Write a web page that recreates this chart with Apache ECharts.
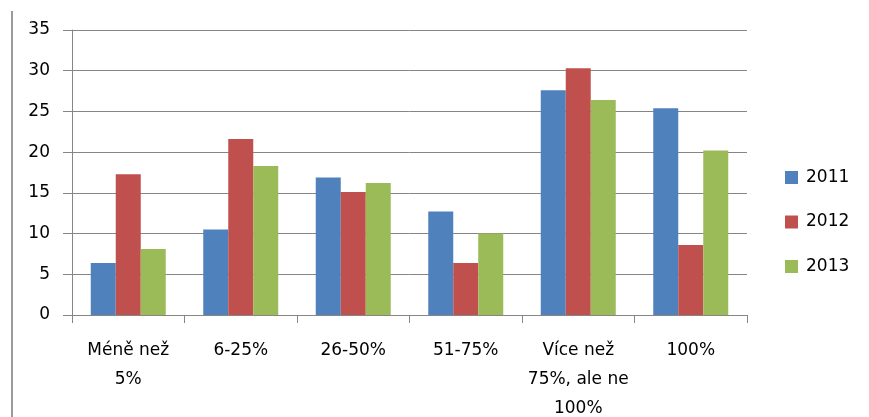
<!DOCTYPE html>
<html lang="cs">
<head>
    <meta charset="UTF-8">
    <title>Graf</title>
    <script src="https://cdn.jsdelivr.net/npm/echarts@6/dist/echarts.min.js"></script>
    <style>
        html, body { margin: 0; padding: 0; background: #fff; }
        #main { width: 869px; height: 417px; }
    </style>
</head>
<body>
    <div id="main"></div>
    <script type="text/javascript">
        // kategorie a hodnoty
        var categories = ['Méně než\n5%', '6-25%', '26-50%', '51-75%', 'Více než\n75%, ale ne\n100%', '100%'];
        var years = ['2011', '2012', '2013'];
        var data2011 = [6.4, 10.5, 16.9, 12.7, 27.6, 25.4];
        var data2012 = [17.3, 21.6, 15.1, 6.4, 30.3, 8.6];
        var data2013 = [8.1, 18.3, 16.2, 10.0, 26.4, 20.2];
        var yTicks = [0, 5, 10, 15, 20, 25, 30, 35];

        var colors = ['#4F81BD', '#C0504D', '#9BBB59'];
        var font = '"DejaVu Sans", sans-serif';
        var gray = '#868686';

        function makeSeries(name, values, color) {
            return {
                name: name,
                type: 'bar',
                data: values,
                barWidth: 25,
                barGap: '0%',
                animation: false,
                itemStyle: { color: color }
            };
        }

        var option = {
            color: colors,
            grid: { left: 72, right: 122, top: 30, bottom: 102, outerBoundsMode: 'none', containLabel: false },
            legend: {
                orient: 'vertical',
                left: 780,
                top: 164,
                itemWidth: 13,
                itemHeight: 13,
                itemGap: 27.5,
                icon: 'rect',
                textStyle: { fontFamily: font, fontSize: 17, color: '#000', padding: [0, 0, 0, 3] },
                data: years
            },
            xAxis: {
                type: 'category',
                data: categories,
                axisLine: { lineStyle: { color: gray } },
                axisTick: { show: true, length: 8, lineStyle: { color: gray } },
                axisLabel: {
                    interval: 0,
                    margin: 21,
                    fontFamily: font,
                    fontSize: 17,
                    lineHeight: 29,
                    color: '#000'
                }
            },
            yAxis: {
                type: 'value',
                min: yTicks[0],
                max: yTicks[yTicks.length - 1],
                interval: 5,
                axisLine: { show: true, lineStyle: { color: gray } },
                axisTick: { show: true, length: 9, lineStyle: { color: gray } },
                splitLine: { lineStyle: { color: gray } },
                axisLabel: {
                    margin: 22,
                    fontFamily: font,
                    fontSize: 17,
                    color: '#000'
                }
            },
            graphic: [{
                type: 'line',
                shape: { x1: 12, y1: 11, x2: 12, y2: 417 },
                style: { stroke: '#9a9a9a', lineWidth: 2 }
            }],
            series: [
                makeSeries(years[0], data2011, colors[0]),
                makeSeries(years[1], data2012, colors[1]),
                makeSeries(years[2], data2013, colors[2])
            ]
        };

        var myChart = echarts.init(document.getElementById('main'));
        myChart.setOption(option);
    </script>
</body>
</html>
